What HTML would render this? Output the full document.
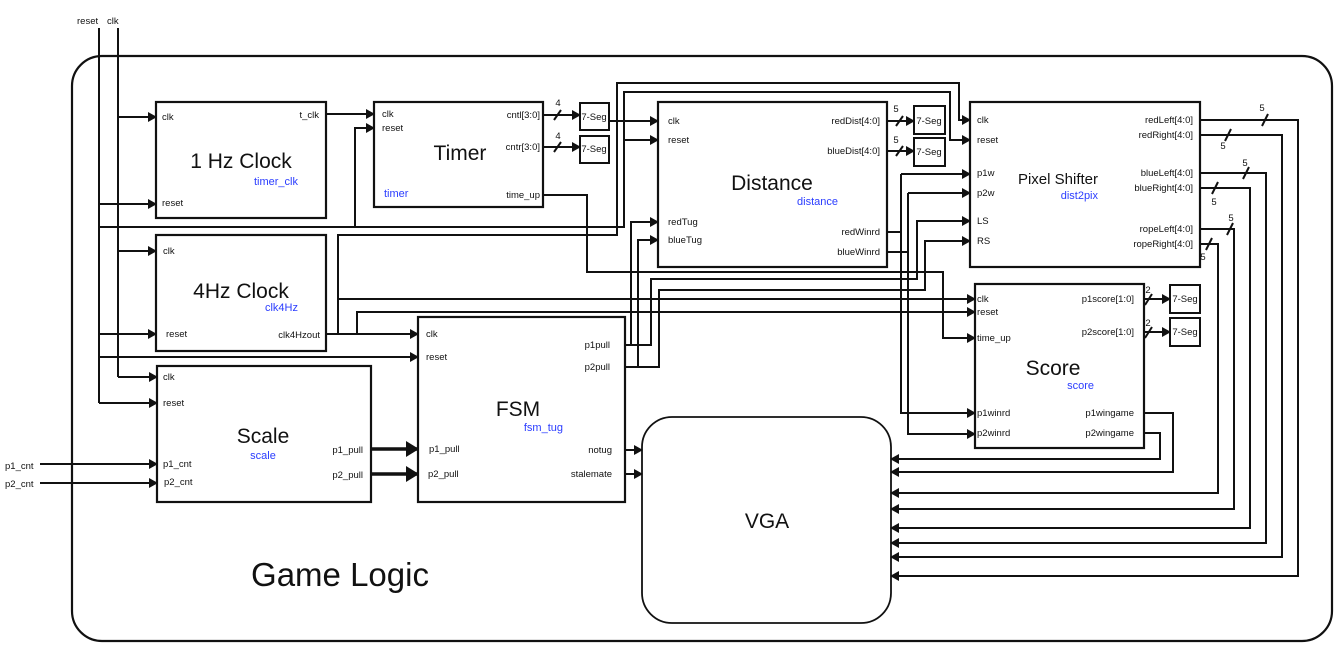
<!DOCTYPE html>
<html><head><meta charset="utf-8"><style>
html,body{margin:0;padding:0;background:#fff;}
svg{display:block;font-family:"Liberation Sans",sans-serif;}
.b{fill:none;stroke:#111;stroke-width:2.2}
.w{fill:none;stroke:#111;stroke-width:2}
.p{font-size:9.5px;fill:#111}
.t{font-size:21px;fill:#111}
.bl{font-size:11px;fill:#2a3cff}
</style></head><body>
<svg width="1344" height="659" viewBox="0 0 1344 659" xmlns="http://www.w3.org/2000/svg">
<defs>
<marker id="a" markerWidth="10" markerHeight="10" refX="8" refY="5" orient="auto" markerUnits="userSpaceOnUse"><path d="M0,0 L9,5 L0,10 z" fill="#111"/></marker>
<marker id="A" markerWidth="14" markerHeight="16" refX="12" refY="8" orient="auto" markerUnits="userSpaceOnUse"><path d="M0,0 L13,8 L0,16 z" fill="#111"/></marker>
</defs>
<rect x="72" y="56" width="1260" height="585" rx="30" class="b"/>
<text x="77" y="24" class="p">reset</text><text x="107" y="24" class="p">clk</text>
<text x="340" y="586" font-size="33" text-anchor="middle" fill="#111">Game Logic</text>

<rect x="156" y="102" width="170" height="116" class="b"/>
<rect x="374" y="102" width="169" height="105" class="b"/>
<rect x="658" y="102" width="229" height="165" class="b"/>
<rect x="970" y="102" width="230" height="165" class="b"/>
<rect x="156" y="235" width="170" height="116" class="b"/>
<rect x="975" y="284" width="169" height="164" class="b"/>
<rect x="418" y="317" width="207" height="185" class="b"/>
<rect x="157" y="366" width="214" height="136" class="b"/>
<rect x="642" y="417" width="249" height="206" rx="30" class="w" style="stroke-width:1.8"/>
<rect x="580" y="103" width="29" height="27" class="w"/><text x="594" y="120" class="p" text-anchor="middle">7-Seg</text>
<rect x="580" y="136" width="29" height="27" class="w"/><text x="594" y="152" class="p" text-anchor="middle">7-Seg</text>
<rect x="914" y="106" width="31" height="28" class="w"/><text x="929" y="124" class="p" text-anchor="middle">7-Seg</text>
<rect x="914" y="138" width="31" height="28" class="w"/><text x="929" y="155" class="p" text-anchor="middle">7-Seg</text>
<rect x="1170" y="285" width="30" height="28" class="w"/><text x="1185" y="302" class="p" text-anchor="middle">7-Seg</text>
<rect x="1170" y="318" width="30" height="28" class="w"/><text x="1185" y="335" class="p" text-anchor="middle">7-Seg</text>

<text x="241" y="168" class="t" text-anchor="middle">1 Hz Clock</text><text x="298" y="185" class="bl" text-anchor="end">timer_clk</text>
<text x="460" y="160" class="t" text-anchor="middle">Timer</text><text x="384" y="197" class="bl">timer</text>
<text x="772" y="190" class="t" text-anchor="middle">Distance</text><text x="838" y="205" class="bl" text-anchor="end">distance</text>
<text x="1058" y="184" font-size="15" fill="#111" text-anchor="middle">Pixel Shifter</text><text x="1098" y="199" class="bl" text-anchor="end">dist2pix</text>
<text x="241" y="298" class="t" text-anchor="middle">4Hz Clock</text><text x="298" y="311" class="bl" text-anchor="end">clk4Hz</text>
<text x="1053" y="375" class="t" text-anchor="middle">Score</text><text x="1094" y="389" class="bl" text-anchor="end">score</text>
<text x="518" y="416" class="t" text-anchor="middle">FSM</text><text x="563" y="431" class="bl" text-anchor="end">fsm_tug</text>
<text x="263" y="443" class="t" text-anchor="middle">Scale</text><text x="263" y="459" class="bl" text-anchor="middle">scale</text>
<text x="767" y="528" class="t" text-anchor="middle">VGA</text>

<g class="p">
<text x="162" y="120">clk</text><text x="162" y="206">reset</text><text x="319" y="118" text-anchor="end">t_clk</text>
<text x="382" y="117">clk</text><text x="382" y="131">reset</text>
<text x="540" y="118" text-anchor="end">cntl[3:0]</text><text x="540" y="150" text-anchor="end">cntr[3:0]</text><text x="540" y="198" text-anchor="end">time_up</text>
<text x="668" y="124">clk</text><text x="668" y="143">reset</text><text x="668" y="225">redTug</text><text x="668" y="243">blueTug</text>
<text x="880" y="124" text-anchor="end">redDist[4:0]</text><text x="880" y="154" text-anchor="end">blueDist[4:0]</text>
<text x="880" y="235" text-anchor="end">redWinrd</text><text x="880" y="255" text-anchor="end">blueWinrd</text>
<text x="977" y="123">clk</text><text x="977" y="143">reset</text><text x="977" y="176">p1w</text><text x="977" y="196">p2w</text><text x="977" y="224">LS</text><text x="977" y="244">RS</text>
<text x="1193" y="123" text-anchor="end">redLeft[4:0]</text><text x="1193" y="138" text-anchor="end">redRight[4:0]</text>
<text x="1193" y="176" text-anchor="end">blueLeft[4:0]</text><text x="1193" y="191" text-anchor="end">blueRight[4:0]</text>
<text x="1193" y="232" text-anchor="end">ropeLeft[4:0]</text><text x="1193" y="247" text-anchor="end">ropeRight[4:0]</text>
<text x="163" y="254">clk</text><text x="166" y="337">reset</text><text x="320" y="338" text-anchor="end">clk4Hzout</text>
<text x="977" y="302">clk</text><text x="977" y="315">reset</text><text x="977" y="341">time_up</text>
<text x="1134" y="302" text-anchor="end">p1score[1:0]</text><text x="1134" y="335" text-anchor="end">p2score[1:0]</text>
<text x="977" y="416">p1winrd</text><text x="977" y="436">p2winrd</text>
<text x="1134" y="416" text-anchor="end">p1wingame</text><text x="1134" y="436" text-anchor="end">p2wingame</text>
<text x="426" y="337">clk</text><text x="426" y="360">reset</text><text x="610" y="348" text-anchor="end">p1pull</text><text x="610" y="370" text-anchor="end">p2pull</text>
<text x="429" y="452">p1_pull</text><text x="428" y="477">p2_pull</text><text x="612" y="453" text-anchor="end">notug</text><text x="612" y="477" text-anchor="end">stalemate</text>
<text x="163" y="380">clk</text><text x="163" y="406">reset</text><text x="163" y="467">p1_cnt</text><text x="164" y="485">p2_cnt</text>
<text x="363" y="453" text-anchor="end">p1_pull</text><text x="363" y="478" text-anchor="end">p2_pull</text>
<text x="5" y="469">p1_cnt</text><text x="5" y="487">p2_cnt</text>
<text x="558" y="106" text-anchor="middle">4</text><text x="558" y="139" text-anchor="middle">4</text>
<text x="896" y="112" text-anchor="middle">5</text><text x="896" y="143" text-anchor="middle">5</text>
<text x="1148" y="293" text-anchor="middle">2</text><text x="1148" y="326" text-anchor="middle">2</text>
<text x="1262" y="111" text-anchor="middle">5</text><text x="1223" y="149" text-anchor="middle">5</text>
<text x="1245" y="166" text-anchor="middle">5</text><text x="1214" y="205" text-anchor="middle">5</text>
<text x="1231" y="221" text-anchor="middle">5</text><text x="1203" y="260" text-anchor="middle">5</text>
</g>

<g class="w">
<path d="M99,28 V403"/><path d="M118,28 V377"/>
<path d="M118,117 H156" marker-end="url(#a)"/>
<path d="M99,204 H156" marker-end="url(#a)"/>
<path d="M118,251 H156" marker-end="url(#a)"/>
<path d="M99,334 H156" marker-end="url(#a)"/>
<path d="M118,377 H157" marker-end="url(#a)"/>
<path d="M99,403 H157" marker-end="url(#a)"/>
<path d="M99,357 H418" marker-end="url(#a)"/>
<path d="M40,464 H157" marker-end="url(#a)"/>
<path d="M40,483 H157" marker-end="url(#a)"/>
<path d="M326,114 H374" marker-end="url(#a)"/>
<path d="M99,227 H624 V92 H950 V140 H970" marker-end="url(#a)"/>
<path d="M355,227 V128 H374" marker-end="url(#a)"/>
<path d="M624,140 H658" marker-end="url(#a)"/>
<path d="M326,334 H418" marker-end="url(#a)"/>
<path d="M338,334 V235 H617 V83 H959 V120 H970" marker-end="url(#a)"/>
<path d="M609,121 H658" marker-end="url(#a)"/>
<path d="M338,299 H975" marker-end="url(#a)"/>
<path d="M357,334 V312 H975" marker-end="url(#a)"/>
<path d="M543,115 H580" marker-end="url(#a)"/><path d="M543,147 H580" marker-end="url(#a)"/>
<path d="M554,120 L561,110 M554,152 L561,142"/>
<path d="M543,195 H587 V272 H943 V338 H975" marker-end="url(#a)"/>
<path d="M887,121 H914" marker-end="url(#a)"/><path d="M887,151 H914" marker-end="url(#a)"/>
<path d="M896,126 L903,116 M896,156 L903,146"/>
<path d="M887,232 H901"/><path d="M901,174 V413 H975" marker-end="url(#a)"/><path d="M901,174 H970" marker-end="url(#a)"/>
<path d="M887,252 H908"/><path d="M908,193 V434 H975" marker-end="url(#a)"/><path d="M908,193 H970" marker-end="url(#a)"/>
<path d="M625,345 H651 V279 H917 V221 H970" marker-end="url(#a)"/>
<path d="M625,367 H659 V290 H925 V241 H970" marker-end="url(#a)"/>
<path d="M631,345 V222 H658" marker-end="url(#a)"/>
<path d="M638,367 V240 H658" marker-end="url(#a)"/>
<path d="M1144,299 H1170" marker-end="url(#a)"/><path d="M1144,332 H1170" marker-end="url(#a)"/>
<path d="M1145,305 L1152,294 M1145,338 L1152,327"/>
<path d="M1144,413 H1173 V472 H891" marker-end="url(#a)"/>
<path d="M1144,433 H1160 V459 H891" marker-end="url(#a)"/>
<path d="M1200,120 H1298 V576 H891" marker-end="url(#a)"/>
<path d="M1200,135 H1282 V557 H891" marker-end="url(#a)"/>
<path d="M1200,173 H1266 V543 H891" marker-end="url(#a)"/>
<path d="M1200,188 H1250 V528 H891" marker-end="url(#a)"/>
<path d="M1200,229 H1234 V509 H891" marker-end="url(#a)"/>
<path d="M1200,244 H1218 V493 H891" marker-end="url(#a)"/>
<path d="M1262,126 L1268,114 M1225,141 L1231,129 M1243,179 L1249,167 M1212,194 L1218,182 M1227,235 L1233,223 M1206,250 L1212,238"/>
<path d="M625,450 H642" marker-end="url(#a)"/><path d="M625,474 H642" marker-end="url(#a)"/>
</g>
<path d="M371,449 H418" stroke="#111" stroke-width="3.5" fill="none" marker-end="url(#A)"/>
<path d="M371,474 H418" stroke="#111" stroke-width="3.5" fill="none" marker-end="url(#A)"/>
</svg>
</body></html>
